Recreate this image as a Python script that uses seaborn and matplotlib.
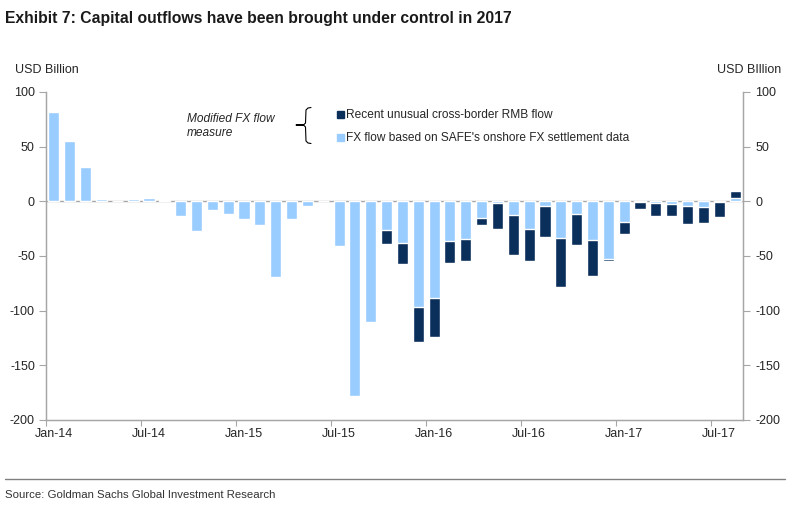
import numpy as np
import pandas as pd
import matplotlib
matplotlib.use("Agg")
import matplotlib.pyplot as plt
from matplotlib import font_manager
from matplotlib.lines import Line2D
from matplotlib.patches import Rectangle
import seaborn as sns

months = pd.date_range("2014-01-01", "2017-08-01", freq="MS").strftime("%b-%y").tolist()

# FX flow based on SAFE's onshore FX settlement data
fx_flow = [82, 55, 31.5, 2, 0.5, 2, 3, 1.5, -13.5, -27.5, -7.5, -12,
           -16.5, -22, -69.5, -16, -4.5, 0, -41, -178, -110, -26, -38.5, -97,
           -88.5, -36.5, -34.5, -15, -1.5, -12.5, -25, -4.5, -33.5, -11.5, -35.5, -53,
           -19, -1, -1.5, -2.5, -4.5, -5.5, -0.5, 3]
# Recent unusual cross-border RMB flow
rmb_flow = [0, 0, 0, 0, 0, 0, 0, 0, 0, 0, 0, 0,
            0, 0, 0, 0, 0, 0, 0, 0, 0, -13, -19, -32,
            -35.5, -19.5, -20, -7, -24, -36.5, -30, -28, -44.5, -28.5, -33, -1.5,
            -11, -6, -11.5, -10.5, -16.5, -14.5, -13.5, 6]

tick_labels = ["Jan-14", "Jul-14", "Jan-15", "Jul-15", "Jan-16", "Jul-16", "Jan-17", "Jul-17"]

df = pd.DataFrame({"month": months, "fx": fx_flow, "rmb": rmb_flow})
# dark bar = full stack, only where there is an RMB part
df["total"] = (df["fx"] + df["rmb"]).where(df["rmb"] != 0)

DARK = "#0B2F5B"
LIGHT = "#99CCFF"
GRAY = "#A6A6A6"

sns.set_style("white")
available = {f.name for f in font_manager.fontManager.ttflist}
narrow = "Liberation Sans Narrow" if "Liberation Sans Narrow" in available else "Liberation Sans"
plt.rcParams["font.family"] = ["Liberation Sans", "DejaVu Sans"]

fig = plt.figure(figsize=(8.02, 5.11), dpi=100)
ax = fig.add_axes([46 / 802, 1 - 420 / 511, (743 - 46) / 802, (420 - 92) / 511])

# stacked bars: totals in dark, the FX part drawn on top in light blue
sns.barplot(data=df, x="month", y="total", order=months, color=DARK, width=0.7,
            saturation=1, ax=ax, zorder=2)
sns.barplot(data=df, x="month", y="fx", order=months, color=LIGHT, width=0.7,
            saturation=1, ax=ax, zorder=3)

n = len(months)
ax.set_xlim(-0.5, n - 0.5)
ax.set_ylim(-200, 100)
ax.axhline(0, color=GRAY, lw=1, zorder=1)

yticks = [100, 50, 0, -50, -100, -150, -200]
ax.set_xlabel("")
ax.set_ylabel("")
ax.set_yticks(yticks)
ax.set_yticklabels([str(t) for t in yticks], fontsize=9)

label_pos = [months.index(t) for t in tick_labels]
ax.set_xticks([p - 0.5 for p in label_pos])
ax.set_xticklabels([])
ax.set_xticks(label_pos, minor=True)
ax.set_xticklabels(tick_labels, minor=True, fontsize=9, family=[narrow, "DejaVu Sans"])
ax.tick_params(axis="x", which="major", length=4, color=GRAY, direction="out", bottom=True)
ax.tick_params(axis="x", which="minor", length=0, pad=6)
ax.tick_params(axis="y", length=5, color=GRAY, direction="out", left=True, pad=3)

for s in ["left", "right", "bottom"]:
    ax.spines[s].set_color(GRAY)
    ax.spines[s].set_linewidth(1)
ax.spines["top"].set_visible(False)

ax2 = ax.twinx()
ax2.set_ylim(-200, 100)
ax2.set_yticks(yticks)
ax2.set_yticklabels([str(t) for t in yticks], fontsize=9)
ax2.tick_params(axis="y", length=5, color=GRAY, direction="out", right=True, pad=4)
for s in ["left", "right", "bottom"]:
    ax2.spines[s].set_color(GRAY)
ax2.spines["top"].set_visible(False)

# title, units, source
fig.text(5 / 802, 1 - 18 / 511, "Exhibit 7: Capital outflows have been brought under control in 2017",
         fontsize=11.3, fontweight="bold", va="center", ha="left", color="#1a1a1a",
         family=[narrow, "DejaVu Sans"])
fig.text(15 / 802, 1 - 70 / 511, "USD Billion", fontsize=9, va="center", ha="left")
fig.text(781 / 802, 1 - 70 / 511, "USD BIllion", fontsize=9, va="center", ha="right")
fig.add_artist(Line2D([5 / 802, 785 / 802], [1 - 479 / 511, 1 - 479 / 511],
                      color="#808080", lw=1, transform=fig.transFigure))
fig.text(5 / 802, 1 - 495 / 511, "Source: Goldman Sachs Global Investment Research",
         fontsize=8.2, va="center", ha="left", color="#333333", family=[narrow, "DejaVu Sans"])

# legend block
fig.text(187 / 802, 1 - 126 / 511, "Modified FX flow\nmeasure", fontsize=8.6, style="italic",
         va="center", ha="left", linespacing=1.25)
bx = [311, 308, 306, 305.5, 304, 296, 304, 305.5, 306, 308, 311]
by = [107.5, 108, 110, 123, 124.5, 125, 125.5, 127, 141, 143, 143.5]
fig.add_artist(Line2D([x / 802 for x in bx], [1 - y / 511 for y in by],
                      color="black", lw=0.8, transform=fig.transFigure))
for yy, col, lab in [(115, DARK, "Recent unusual cross-border RMB flow"),
                     (138, LIGHT, "FX flow based on SAFE's onshore FX settlement data")]:
    fig.add_artist(Rectangle((337 / 802, 1 - (yy + 3.5) / 511), 7 / 802, 7 / 511,
                             color=col, transform=fig.transFigure))
    fig.text(346 / 802, 1 - yy / 511, lab, fontsize=8.6, va="center", ha="left")

fig.savefig("out.png", dpi=100)
